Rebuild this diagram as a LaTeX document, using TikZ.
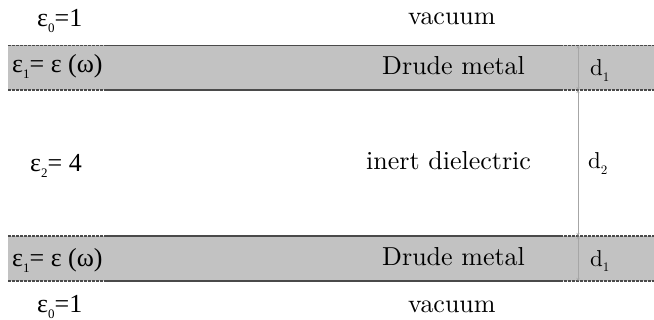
\documentclass[tikz,border=0pt]{standalone}
\usepackage{fontspec}
\usetikzlibrary{arrows.meta}
\setmainfont{lmroman10-regular.otf}
\newfontfamily\epsfont{Liberation Serif}
\newcommand\lowidx[1]{\raisebox{-0.22em}{\fontsize{13}{13}\selectfont #1}}
\definecolor{bandgray}{HTML}{C2C2C2}
\definecolor{edgegray}{HTML}{4A4A4A}
\tikzset{
  lbl/.style={inner sep=0pt, anchor=base west, font=\fontsize{26}{30}\selectfont},
  eps/.style={inner sep=0pt, anchor=base west, font=\epsfont\fontsize{26}{30}\selectfont},
  dim/.style={inner sep=0pt, anchor=base west, font=\fontsize{23}{27}\selectfont},
  band/.style={fill=bandgray, draw=none},
  solidedge/.style={draw=edgegray, line width=1.6pt},
  dashedge/.style={draw=edgegray, line width=1.4pt, dash pattern=on 2.5pt off 1.5pt},
  dimline/.style={draw=gray!70, line width=0.5pt, {Stealth[length=3pt,width=3pt]}-{Stealth[length=3pt,width=3pt]}},
}
\begin{document}
\begin{tikzpicture}[x=1pt,y=-1pt]
\useasboundingbox (0,0) rectangle (654,320);

% metal layers
\foreach \t/\b in {45.5/90, 236/281}{
  \fill[band] (8,\t) rectangle (654,\b);
  \foreach \y in {\t,\b}{
    \draw[dashedge] (8,\y) -- (107,\y);
    \draw[solidedge] (107,\y) -- (560,\y);
    \draw[dashedge] (560,\y) -- (654,\y);
  }
}

% thickness markers
\coordinate (m0) at (578,45.5);
\coordinate (m1) at (578,90);
\coordinate (m2) at (578,236);
\coordinate (m3) at (578,281);
\draw[dimline] (m0) -- (m1);
\draw[dimline] (m1) -- (m2);
\draw[dimline] (m2) -- (m3);

% labels
\node[eps] (e0top) at (37,27) {ε\lowidx{0}=1};
\node[lbl] (vactop) at (408,25) {vacuum};
\node[eps] (e1top) at (12,73) {ε\lowidx{1}= ε (ω)};
\node[lbl] (drudetop) at (382,75) {Drude metal};
\node[dim] (d1top) at (590,76) {d\lowidx{1}};
\node[eps] (e2) at (30,172) {ε\lowidx{2}= 4};
\node[lbl] (diel) at (366,170) {inert dielectric};
\node[dim] (d2) at (588,169) {d\lowidx{2}};
\node[eps] (e1bot) at (12,267) {ε\lowidx{1}= ε (ω)};
\node[lbl] (drudebot) at (382,265.5) {Drude metal};
\node[dim] (d1bot) at (590,266.5) {d\lowidx{1}};
\node[eps] (e0bot) at (37,313) {ε\lowidx{0}=1};
\node[lbl] (vacbot) at (408,313) {vacuum};
\end{tikzpicture}
\end{document}
